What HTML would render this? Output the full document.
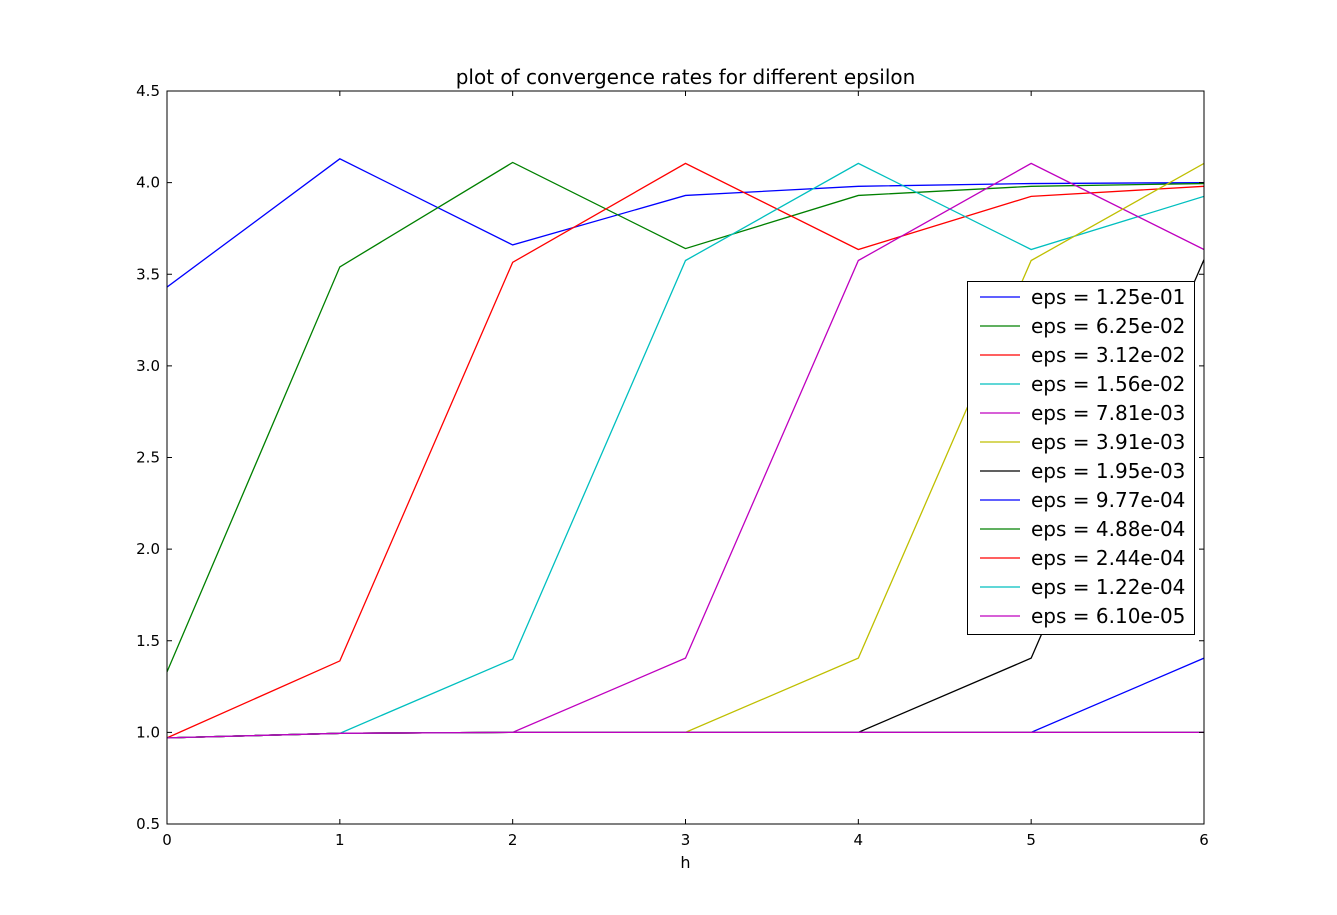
<!DOCTYPE html>
<html><head><meta charset="utf-8"><style>
body{margin:0;background:#fff;}
svg{display:block;font-family:"DejaVu Sans","Liberation Sans",sans-serif;}
</style></head><body>
<svg id="chart" width="1337" height="915" xmlns="http://www.w3.org/2000/svg">
<rect width="1337" height="915" fill="#fff"/>
<g id="plot"></g>
</svg>
<script>
const xTicks=[0,1,2,3,4,5,6];
const yTicks=["0.5","1.0","1.5","2.0","2.5","3.0","3.5","4.0","4.5"];
const labels=["eps = 1.25e-01","eps = 6.25e-02","eps = 3.12e-02","eps = 1.56e-02","eps = 7.81e-03","eps = 3.91e-03","eps = 1.95e-03","eps = 9.77e-04","eps = 4.88e-04","eps = 2.44e-04","eps = 1.22e-04","eps = 6.10e-05"];
const colors=["#0000ff","#008000","#ff0000","#00bfbf","#bf00bf","#bfbf00","#000000","#0000ff","#008000","#ff0000","#00bfbf","#bf00bf"];
const s1=[3.43,4.13,3.66,3.93,3.98,3.995,4.0];
const s2=[1.33,3.54,4.11,3.64,3.93,3.98,3.995];
const s3=[0.97,1.39,3.565,4.105,3.635,3.925,3.98];
const s4=[0.97,0.995,1.40,3.575,4.105,3.635,3.925];
const s5=[0.97,0.995,1.0,1.405,3.575,4.105,3.635];
const s6=[0.97,0.995,1.0,1.0,1.405,3.575,4.105];
const s7=[0.97,0.995,1.0,1.0,1.0,1.405,3.58];
const s8=[0.97,0.995,1.0,1.0,1.0,1.0,1.405];
const s9=[0.97,0.995,1.0,1.0,1.0,1.0,1.0];
const s10=[0.97,0.995,1.0,1.0,1.0,1.0,1.0];
const s11=[0.97,0.995,1.0,1.0,1.0,1.0,1.0];
const s12=[0.97,0.995,1.0,1.0,1.0,1.0,1.0];
const series=[s1,s2,s3,s4,s5,s6,s7,s8,s9,s10,s11,s12];
const L=167,R=1204,T=91,B=824,xmin=0,xmax=6,ymin=0.5,ymax=4.5;
const X=v=>L+(v-xmin)/(xmax-xmin)*(R-L);
const Y=v=>B-(v-ymin)/(ymax-ymin)*(B-T);
const NS="http://www.w3.org/2000/svg";
const g=document.getElementById('plot');
function el(t,a,p){const e=document.createElementNS(NS,t);for(const k in a)e.setAttribute(k,a[k]);(p||g).appendChild(e);return e;}
const clip=el('clipPath',{id:'clip'});el('rect',{x:L,y:T,width:R-L,height:B-T},clip);
series.forEach((s,i)=>{
  const p=el('polyline',{points:s.map((v,j)=>X(j)+','+Y(v)).join(' '),fill:'none',stroke:colors[i],'stroke-width':1.3,'clip-path':'url(#clip)'});
  
  
});
const ax=el('rect',{x:L,y:T,width:R-L,height:B-T,fill:'none',stroke:'#000','stroke-width':1});


xTicks.forEach(v=>{
  const x=X(v);
  el('line',{x1:x,y1:B,x2:x,y2:B-5,stroke:'#000'});
  el('line',{x1:x,y1:T,x2:x,y2:T+5,stroke:'#000'});
  const t=el('text',{x:x,y:B+21,'text-anchor':'middle','font-size':15});
  t.textContent=v;
  
  
});
yTicks.forEach(v=>{
  const y=Y(parseFloat(v));
  el('line',{x1:L,y1:y,x2:L+5,y2:y,stroke:'#000'});
  el('line',{x1:R,y1:y,x2:R-5,y2:y,stroke:'#000'});
  const t=el('text',{x:L-7,y:y+5,'text-anchor':'end','font-size':15});
  t.textContent=v;
  
  
});
const title=el('text',{x:(L+R)/2,y:84,'text-anchor':'middle','font-size':20});
title.textContent='plot of convergence rates for different epsilon';


const xl=el('text',{x:(L+R)/2,y:868,'text-anchor':'middle','font-size':16});
xl.textContent='h';


const lg=el('g',{});


el('rect',{x:967.5,y:281.5,width:227,height:353,fill:'#fff',stroke:'#000'},lg);
labels.forEach((lab,i)=>{
  const y=297+i*29;
  el('line',{x1:980,y1:y,x2:1020,y2:y,stroke:colors[i],'stroke-width':1.3},lg);
  const t=el('text',{x:1031,y:y+7,'font-size':20},lg);
  t.textContent=lab;
  
  
});
</script>
</body></html>
